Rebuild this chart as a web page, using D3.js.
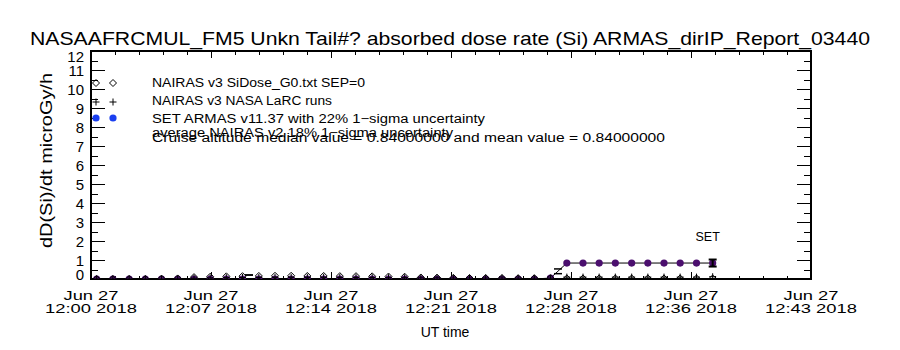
<!DOCTYPE html>
<html><head><meta charset="utf-8">
<script src="https://cdn.jsdelivr.net/npm/d3@7"></script>
<style>
body{margin:0;background:#fff}
svg{display:block}
text{font-family:"Liberation Sans",Arial,sans-serif;fill:#000}
</style>
</head><body>
<svg id="c" width="900" height="350"></svg>
<script>
// ---------------- data ----------------
const chartTitle = "NASAAFRCMUL_FM5 Unkn Tail#? absorbed dose rate (Si) ARMAS_dirIP_Report_03440";
const yAxisTitle = "dD(Si)/dt microGy/h";
const xAxisTitle = "UT time";
const yTickValues = [0,1,2,3,4,5,6,7,8,9,10,11,12];
const xTickTimes = ["2018-06-27T12:00:00Z","2018-06-27T12:07:12Z","2018-06-27T12:14:24Z",
                    "2018-06-27T12:21:36Z","2018-06-27T12:28:48Z","2018-06-27T12:36:00Z","2018-06-27T12:43:12Z"];
const legendLabels = ["NAIRAS v3 SiDose_G0.txt SEP=0","NAIRAS v3 NASA LaRC runs",
                      "SET ARMAS v11.37 with 22% 1\u2212sigma uncertainty"];
const noteLabels = ["average NAIRAS v2 18% 1\u2212sigma uncertainty",
                    "Cruise altitude median value = 0.84000000 and mean value = 0.84000000"];
const seriesTag = "SET";
// observation times, minutes after 12:00 UT
const obsMinutes = [0.34,1.31,2.29,3.26,4.23,5.20,6.18,7.15,8.12,9.09,10.07,11.04,12.01,12.98,
  13.96,14.93,15.90,16.87,17.85,18.82,19.79,20.76,21.74,22.71,23.68,24.66,25.63,26.60,27.57,
  28.55,29.52,30.49,31.46,32.44,33.41,34.38,35.35,36.33,37.30];
const nairasG0 = [0.00,0.00,0.00,0.00,0.02,0.03,0.10,0.12,0.14,0.15,0.16,0.17,0.17,0.16,0.16,
  0.15,0.15,0.14,0.13,0.12,0.08,0.07,0.06,0.05,0.05,0.05,0.04,0.04,0.04,0.03,0.03,0.03,0.03,
  0.03,0.03,0.03,0.03,0.03,0.03];
const nairasLaRC = [0.00,0.00,0.00,0.00,0.00,0.01,0.04,0.06,0.07,0.08,0.08,0.09,0.09,0.09,0.09,
  0.08,0.08,0.08,0.07,0.07,0.06,0.06,0.05,0.05,0.05,0.05,0.04,0.04,0.04,0.10,0.10,0.10,0.10,
  0.10,0.10,0.10,0.10,0.10,0.12];
const armas = [0,0,0,0,0,0,0,0,0,0,0,0,0,0,0,0,0,0,0,0,0,0,0,0,0,0,0,0,0.05,
  0.84,0.84,0.84,0.84,0.84,0.84,0.84,0.84,0.84,0.84];
const armasSigma = 0.22;
const avgNairasMinutes = [9.48, 28.02];
const avgNairasLow  = [0.21, 0.28];
const avgNairasHigh = [0.21, 0.53];

// ---------------- drawing ----------------
const svg = d3.select("#c");
const L=91, R=811, T=51, B=279;
const t0 = new Date("2018-06-27T12:00:00Z");
const toDate = m => new Date(t0.getTime() + m*60000);
const xTicks = xTickTimes.map(s => new Date(s));
const x = d3.scaleUtc().domain([xTicks[0], xTicks[xTicks.length-1]]).range([L,R]);
const y = d3.scaleLinear().domain([0,12]).range([B,T]);

svg.append("rect").attr("width",900).attr("height",350).attr("fill","#fff");

// title
svg.append("text").attr("x",30).attr("y",45).attr("font-size",19)
  .attr("textLength",840).attr("lengthAdjust","spacingAndGlyphs").text(chartTitle);

const axesG = svg.append("g").attr("shape-rendering","crispEdges");
function styleAxis(g){ g.select(".domain").remove(); g.selectAll("line").attr("stroke","#000"); g.selectAll("text").remove(); }
const yMinor = d3.range(0,12.01,0.5).filter(v=>!Number.isInteger(v));
const yMajor = yTickValues.filter(v=>v>0 && v<12);
axesG.append("g").attr("transform",`translate(${L},0)`).call(d3.axisLeft(y).tickValues(yMajor).tickSizeInner(-14).tickSizeOuter(0)).call(styleAxis);
axesG.append("g").attr("transform",`translate(${L},0)`).call(d3.axisLeft(y).tickValues(yMinor).tickSizeInner(-7).tickSizeOuter(0)).call(styleAxis);
axesG.append("g").attr("transform",`translate(${R},0)`).call(d3.axisRight(y).tickValues(yMajor).tickSizeInner(-14).tickSizeOuter(0)).call(styleAxis);
axesG.append("g").attr("transform",`translate(${R},0)`).call(d3.axisRight(y).tickValues(yMinor).tickSizeInner(-7).tickSizeOuter(0)).call(styleAxis);
const xMinor = d3.range(0,43.21,1.44).map(toDate).filter(d=>!xTicks.some(t=>Math.abs(t-d)<1000));
axesG.append("g").attr("transform",`translate(0,${B})`).call(d3.axisBottom(x).tickValues(xTicks).tickSizeInner(-7).tickSizeOuter(0)).call(styleAxis);
axesG.append("g").attr("transform",`translate(0,${B})`).call(d3.axisBottom(x).tickValues(xMinor).tickSizeInner(-3.5).tickSizeOuter(0)).call(styleAxis);
axesG.append("g").attr("transform",`translate(0,${T})`).call(d3.axisTop(x).tickValues(xTicks).tickSizeInner(-7).tickSizeOuter(0)).call(styleAxis);
axesG.append("g").attr("transform",`translate(0,${T})`).call(d3.axisTop(x).tickValues(xMinor).tickSizeInner(-3.5).tickSizeOuter(0)).call(styleAxis);
axesG.append("rect").attr("x",L).attr("y",T).attr("width",R-L).attr("height",B-T)
  .attr("fill","none").attr("stroke","#000").attr("stroke-width",1.3);

// y tick labels
svg.append("g").selectAll("text").data(yTickValues).join("text")
  .attr("x",84).attr("text-anchor","end").attr("font-size",15)
  .attr("y",d=>y(d)+5.5+(d===0?-5:d===12?5:0)).text(d=>d);

// x tick labels
const fmt1 = d3.utcFormat("%b %d"), fmt2 = d3.utcFormat("%H:%M %Y");
const xl = svg.append("g").selectAll("g").data(xTicks).join("g");
xl.append("text").attr("x",d=>x(d)).attr("y",300).attr("text-anchor","middle").attr("font-size",13)
  .attr("textLength",55).attr("lengthAdjust","spacingAndGlyphs").text(fmt1);
xl.append("text").attr("x",d=>x(d)).attr("y",313).attr("text-anchor","middle").attr("font-size",13)
  .attr("textLength",92).attr("lengthAdjust","spacingAndGlyphs").text(fmt2);

svg.append("text").attr("x",445).attr("y",336.5).attr("text-anchor","middle").attr("font-size",14).text(xAxisTitle);
svg.append("text").attr("transform","translate(52,160.5) rotate(-90)").attr("text-anchor","middle")
  .attr("font-size",16.5).attr("textLength",175).attr("lengthAdjust","spacingAndGlyphs").text(yAxisTitle);

// plot content
svg.append("clipPath").attr("id","pc").append("rect").attr("x",L).attr("y",T).attr("width",R-L).attr("height",B-T);
const plot = svg.append("g").attr("clip-path","url(#pc)");
const purple = "#4b0f6e";
const pts = obsMinutes.map((m,i)=>({t:toDate(m), a:armas[i], g:nairasG0[i], l:nairasLaRC[i]}));

plot.append("path").datum(pts).attr("fill","none").attr("stroke","#000").attr("stroke-width",1)
  .attr("d", d3.line().x(d=>x(d.t)).y(d=>y(d.a)));
plot.append("g").selectAll("circle").data(pts).join("circle")
  .attr("cx",d=>x(d.t)).attr("cy",d=>y(d.a)).attr("r",3.6).attr("fill",purple);

const diamond = r => `M0,${-r}L${r},0L0,${r}L${-r},0Z`;
const plus = r => `M${-r},0H${r}M0,${-r}V${r}`;
plot.append("g").selectAll("path").data(pts).join("path")
  .attr("transform",d=>`translate(${x(d.t)},${y(d.g)})`).attr("d",diamond(3.5))
  .attr("fill","none").attr("stroke","#000").attr("stroke-width",1);
plot.append("g").selectAll("path").data(pts).join("path")
  .attr("transform",d=>`translate(${x(d.t)},${y(d.l)})`).attr("d",plus(3.5))
  .attr("fill","none").attr("stroke","#000").attr("stroke-width",1);

// average NAIRAS v2 caps
avgNairasMinutes.forEach((m,i)=>{
  const cx = x(toDate(m));
  [avgNairasLow[i], avgNairasHigh[i]].forEach(v=>{
    plot.append("line").attr("x1",cx-4).attr("x2",cx+4).attr("y1",y(v)).attr("y2",y(v))
      .attr("stroke","#000").attr("stroke-width",1.5);
  });
});

// error bar on last ARMAS point
const last = pts[pts.length-1];
const ex = x(last.t), lo = y(last.a*(1-armasSigma)), hi = y(last.a*(1+armasSigma));
const eb = plot.append("g").attr("stroke","#000").attr("stroke-width",2);
eb.append("line").attr("x1",ex).attr("x2",ex).attr("y1",lo).attr("y2",hi);
eb.append("line").attr("x1",ex-4).attr("x2",ex+4).attr("y1",lo).attr("y2",lo);
eb.append("line").attr("x1",ex-4).attr("x2",ex+4).attr("y1",hi).attr("y2",hi);
svg.append("text").attr("x",ex-5).attr("y",y(last.a)-22).attr("text-anchor","middle").attr("font-size",12.5).text(seriesTag);

// legend
const legY = [83, 102, 118];
const legBase = [86.5, 104.5, 122.5];
const legX = [96, 113];
const lg = svg.append("g");
legX.forEach(lx=>{
  lg.append("path").attr("transform",`translate(${lx},${legY[0]})`).attr("d",diamond(3.5)).attr("fill","none").attr("stroke","#000");
  lg.append("path").attr("transform",`translate(${lx},${legY[1]})`).attr("d",plus(3.5)).attr("fill","none").attr("stroke","#000");
  lg.append("circle").attr("cx",lx).attr("cy",legY[2]).attr("r",3.6).attr("fill","#1a3ff0");
});
const legLen = [213, 180, 333];
legendLabels.forEach((s,i)=>{
  lg.append("text").attr("x",152).attr("y",legBase[i]).attr("font-size",12.5)
    .attr("textLength",legLen[i]).attr("lengthAdjust","spacingAndGlyphs").text(s);
});
const noteBase = [136.5, 141.5], noteLen = [301, 513];
noteLabels.forEach((s,i)=>{
  lg.append("text").attr("x",152).attr("y",noteBase[i]).attr("font-size",12.5)
    .attr("textLength",noteLen[i]).attr("lengthAdjust","spacingAndGlyphs").text(s);
});
</script>
</body></html>
